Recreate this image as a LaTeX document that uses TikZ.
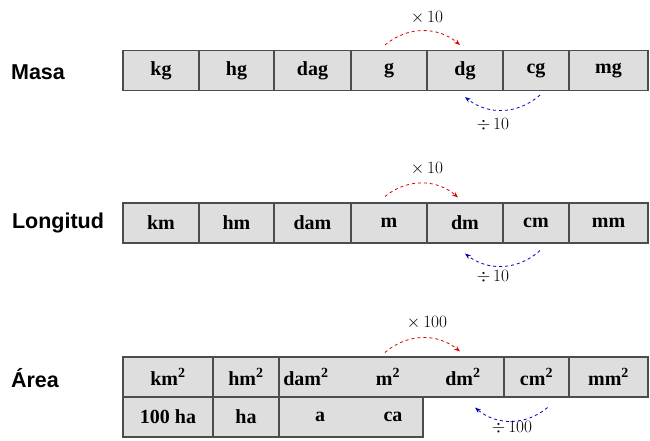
\documentclass[tikz,border=0pt]{standalone}
\usepackage{fontspec}
\setmainfont{Liberation Serif}
\setsansfont{Liberation Sans}
\usetikzlibrary{arrows.meta}

\begin{document}
\begin{tikzpicture}[x=1pt,y=-1pt,
  cell/.style={draw=black!70,line width=1.1pt,fill=black!13,minimum height=40,inner sep=0pt,font=\fontsize{20}{22}\selectfont\bfseries},
  unit/.style={inner sep=0pt,font=\fontsize{20}{22}\selectfont\bfseries},
  rowlabel/.style={font=\fontsize{21.5}{24}\selectfont\sffamily\bfseries},
  mult/.style={red!85!black,dashed,thick,-{Stealth[length=6pt]}},
  divi/.style={blue!75!black,dashed,thick,-{Stealth[length=6pt]}},
  factor/.style={font=\fontsize{17}{20}\selectfont}]
\useasboundingbox (0,0) rectangle (650,441);
% Masa
\node[rowlabel] (masa) at (38,72) {Masa};
\node[cell,minimum width=76] (kg) at (161,70.5) {kg};
\node[cell,minimum width=75] (hg) at (236.5,70.5) {hg};
\node[cell,minimum width=77] (dag) at (312.5,70.5) {dag};
\node[cell,minimum width=76] (g) at (389,70.5) {g};
\node[cell,minimum width=76] (dg) at (465,70.5) {dg};
\node[cell,minimum width=66] (cg) at (536,70.5) {cg};
\node[cell,minimum width=79] (mg) at (608.5,70.5) {mg};
\draw[mult] ([xshift=-4,yshift=5]g.north) to[bend left=40] ([xshift=-5,yshift=5]dg.north);
\draw[divi] ([xshift=4,yshift=-4]cg.south) to[bend left=40] ([yshift=-6]dg.south);
\node[factor] (masamul) at (427,18) {$\times\,10$};
\node[factor] (masadiv) at (493,125) {$\div\,10$};
% Longitud
\node[rowlabel] (longitud) at (58,223) {Longitud};
\node[cell,minimum width=76] (km) at (161,223) {km};
\node[cell,minimum width=75] (hm) at (236.5,223) {hm};
\node[cell,minimum width=77] (dam) at (312.5,223) {dam};
\node[cell,minimum width=76] (m) at (389,223) {m};
\node[cell,minimum width=76] (dm) at (465,223) {dm};
\node[cell,minimum width=66] (cm) at (536,223) {cm};
\node[cell,minimum width=79] (mm) at (608.5,223) {mm};
\draw[mult] ([xshift=-4,yshift=6]m.north) to[bend left=40] ([xshift=-7,yshift=5]dm.north);
\draw[divi] ([xshift=4,yshift=-7]cm.south) to[bend left=40] ([yshift=-10]dm.south);
\node[factor] (longmul) at (427,169) {$\times\,10$};
\node[factor] (longdiv) at (493,277) {$\div\,10$};
% Area
\node[rowlabel] (area) at (35,378) {Área};
\node[cell,minimum width=90] (km2) at (168,377) {km\textsuperscript{2}};
\node[cell,minimum width=66] (hm2) at (246,377) {hm\textsuperscript{2}};
\node[cell,minimum width=225] (midcell) at (391.5,377) {};
\node[cell,minimum width=65] (cm2) at (536.5,377) {cm\textsuperscript{2}};
\node[cell,minimum width=79] (mm2) at (608.5,377) {mm\textsuperscript{2}};
\node[unit] (dam2) at (306,377) {dam\textsuperscript{2}};
\node[unit] (m2) at (388,377) {m\textsuperscript{2}};
\node[unit] (dm2) at (463,377) {dm\textsuperscript{2}};
\node[cell,minimum width=90] (hha) at (168,417) {100 ha};
\node[cell,minimum width=66] (ha) at (246,417) {ha};
\node[cell,minimum width=144] (acell) at (351,417) {};
\node[unit] (a) at (320,417) {a};
\node[unit] (ca) at (393,417) {ca};
\path (m2 |- midcell.north) ++(-3,-4) coordinate (asup);
\path (dm2 |- midcell.north) ++(-3,-5) coordinate (bsup);
\path (cm2.south) ++(11,10) coordinate (ainf);
\path (dm2 |- cm2.south) ++(12,10) coordinate (binf);
\draw[mult] (asup) to[bend left=40] (bsup);
\draw[divi] (ainf) to[bend left=40] (binf);
\node[factor] (areamul) at (427,323) {$\times\,100$};
\node[factor] (areadiv) at (512,428) {$\div\,100$};
\end{tikzpicture}
\end{document}
